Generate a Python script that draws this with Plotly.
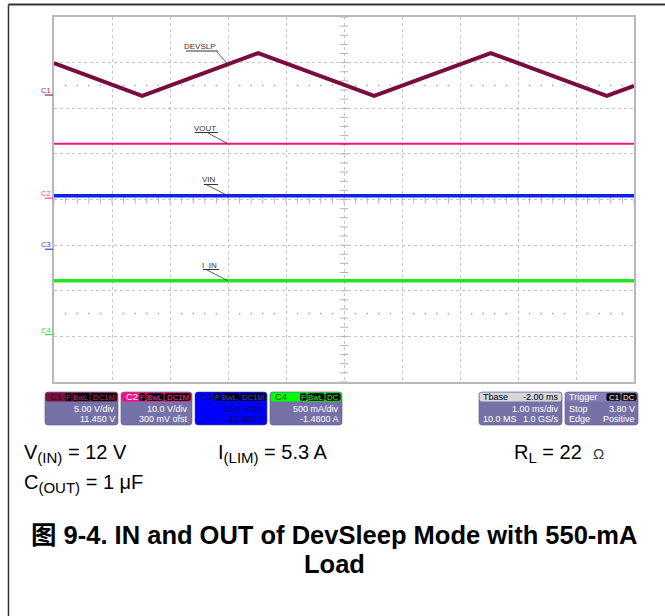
import plotly.graph_objects as go

W, H = 665, 616
PL, PR, PT, PB = 54, 634, 17, 382          # plot area in pixels
T0, T1, NDIV_Y = -3.0, 7.0, 8

# ---------------- data ----------------
span_t = [-3.0, 7.0]                         # ms
devslp_t = [-3.0, -1.48, 0.52, 2.52, 4.53, 6.53, 7.0]
devslp_v = [3.5, -0.1, 4.6, -0.1, 4.6, -0.1, 1.0]
vout_v = 11.9
vin_v = 11.7
iin_a = 0.59
channels = ["C1", "C2", "C3", "C4"]
volts_per_div = [5.0, 10.0, 10.0, 0.5]
offsets = [11.45, 0.30, -10.90, -1.48]
trace_names = ["DEVSLP", "VOUT", "VIN", "I_IN"]
trigger_t = 0.0
trigger_level = 3.80
ch_colors = ["#7a0b3c", "#f0147c", "#1020ee", "#22e622"]
mark_colors = ["#a0205a", "#ff3a8a", "#3a3aff", "#30e030"]

box_rows = {
    "C1": ("5.00 V/div", "11.450 V", ["F", "BwL", "DC1M"]),
    "C2": ("10.0 V/div", "300 mV ofst", ["F", "BwL", "DC1M"]),
    "C3": ("10.0 V/div", "-10.900 V", ["F", "BwL", "DC1M"]),
    "C4": ("500 mA/div", "-1.4800 A", ["F", "BwL", "DC"]),
}

ground = [4 + o / s for o, s in zip(offsets, volts_per_div)]   # in divisions

def to_div(ch, v):
    return ground[ch] + v / volts_per_div[ch]

# ---------------- helpers ----------------
def X(px):
    return px / W

def Y(py):
    return 1 - py / H

def tx(t):
    return PL + (t - T0) * (PR - PL) / (T1 - T0)

def dy(d):
    return PB - d * (PB - PT) / NDIV_Y

def rrect(x0, y0, x1, y1, r, fill, line=None, lw=0):
    p = (f"M {X(x0+r)},{Y(y0)} L {X(x1-r)},{Y(y0)} Q {X(x1)},{Y(y0)} {X(x1)},{Y(y0+r)} "
         f"L {X(x1)},{Y(y1-r)} Q {X(x1)},{Y(y1)} {X(x1-r)},{Y(y1)} "
         f"L {X(x0+r)},{Y(y1)} Q {X(x0)},{Y(y1)} {X(x0)},{Y(y1-r)} "
         f"L {X(x0)},{Y(y0+r)} Q {X(x0)},{Y(y0)} {X(x0+r)},{Y(y0)} Z")
    return dict(type="path", path=p, xref="paper", yref="paper", fillcolor=fill,
                line=dict(color=line or fill, width=lw), layer="above")

def pline(x0, y0, x1, y1, color, w=1):
    return dict(type="line", xref="paper", yref="paper", x0=X(x0), y0=Y(y0),
                x1=X(x1), y1=Y(y1), line=dict(color=color, width=w), layer="above")

FONT = "Arial, Liberation Sans"

def txt(px, py, s, size, color, xanchor="left", bold=False, family=FONT):
    if bold:
        s = f"<b>{s}</b>"
    return dict(x=X(px), y=Y(py), xref="paper", yref="paper", text=s, showarrow=False,
                xanchor=xanchor, yanchor="middle", font=dict(size=size, color=color, family=family))

fig = go.Figure()

# center-line ticks and dotted rows
sub_t = [T0 + 0.2 * i for i in range(51)]
sub_d = [0.2 * i for i in range(41)]
fig.add_trace(go.Scatter(x=sub_t, y=[4] * len(sub_t), mode="markers", hoverinfo="skip",
                         marker=dict(symbol="line-ns", size=6, line=dict(width=1, color="#b4b4b4"))))
fig.add_trace(go.Scatter(x=[2] * len(sub_d), y=sub_d, mode="markers", hoverinfo="skip",
                         marker=dict(symbol="line-ew", size=6, line=dict(width=1, color="#b4b4b4"))))
dot_t = [t for t in sub_t if abs(t - round(t)) > 0.05]
for yy in (6.5, 1.5):
    fig.add_trace(go.Scatter(x=dot_t, y=[yy] * len(dot_t), mode="markers", hoverinfo="skip",
                             marker=dict(symbol="square", size=1.6, color="#b0b0b0")))

# waveforms
fig.add_trace(go.Scatter(x=span_t, y=[to_div(3, iin_a)] * 2, mode="lines",
                         line=dict(color=ch_colors[3], width=3.5)))
fig.add_trace(go.Scatter(x=span_t, y=[to_div(2, vin_v)] * 2, mode="lines",
                         line=dict(color=ch_colors[2], width=3.5)))
fig.add_trace(go.Scatter(x=span_t, y=[to_div(1, vout_v)] * 2, mode="lines",
                         line=dict(color=ch_colors[1], width=2)))
fig.add_trace(go.Scatter(x=devslp_t, y=[to_div(0, v) for v in devslp_v], mode="lines",
                         line=dict(color=ch_colors[0], width=4)))

# trigger markers
fig.add_trace(go.Scatter(x=[trigger_t], y=[-0.08], mode="markers", cliponaxis=False,
                         marker=dict(symbol="triangle-up", size=8, color="#7a0b3c")))
fig.add_trace(go.Scatter(x=[T1 + 0.11], y=[to_div(0, trigger_level)], mode="markers",
                         cliponaxis=False,
                         marker=dict(symbol="triangle-left", size=7, color="#7a0b3c")))

shapes = []
annots = []

# outer frame
shapes.append(pline(8.5, 616, 8.5, 4.5, "#333333", 1.5))
shapes.append(pline(8.5, 4.5, 665, 4.5, "#333333", 2))

# trace labels with leaders
label_info = [  # channel, right x, text center y, underline left x, leader start (x,y)
    (0, 218, 46.5, 186, 217, 52),
    (1, 218, 128, 195, 208, 133),
    (2, 218, 180, 204, 207, 185),
    (3, 219, 265, 203, 207, 270),
]
trace_vals = [None, vout_v, vin_v, iin_a]
for ch, rx, cy, lx, sx, sy in label_info:
    if ch == 0:
        t_a, t_b = devslp_t[1], devslp_t[2]
        v_a, v_b = devslp_v[1], devslp_v[2]
        v = v_a + (trigger_t - t_a) * (v_b - v_a) / (t_b - t_a)
    else:
        v = trace_vals[ch]
    ey = dy(to_div(ch, v))
    annots.append(txt(rx, cy, trace_names[ch], 8, "#333333", xanchor="right"))
    shapes.append(pline(lx, cy + 4.5, rx, cy + 4.5, "#333333", 1))
    shapes.append(pline(sx, sy, tx(trigger_t), ey, "#333333", 0.8))

# channel ground markers
for i, ch in enumerate(channels):
    gy = dy(ground[i])
    annots.append(txt(53, gy - 4.5, ch, 7.5, mark_colors[i], xanchor="right"))
    shapes.append(pline(45, gy, 53, gy, mark_colors[i], 1.2))

# ---- scope info boxes ----
BODY = "#7672a8"
BY0, BY1, HY1 = 392, 425, 401.5
box_x = {"C1": (45, 118), "C2": (121, 192), "C3": (195, 267), "C4": (270, 342)}
head_fill = {"C1": "#7a1040", "C2": "#ff0a80", "C3": "#0000ff", "C4": "#00ff00"}
head_txt = {"C1": "#3a0018", "C2": "#ffffff", "C3": "#00005a", "C4": "#1b4d1b"}
tag_txt = {"C1": "#c03070", "C2": "#ff4a98", "C3": "#3a4aff", "C4": "#40ff40"}
body_txt = {"C1": "#ffffff", "C2": "#ffffff", "C3": "#00006a", "C4": "#ffffff"}
tag_w = {"F": 6.5, "BwL": 17, "DC1M": 26, "DC": 15, "C1": 14}
BFS = 9   # box text size

def tags(x_right, names, txtcolor):
    xr = x_right - 1.5
    for nm in reversed(names):
        w = tag_w[nm]
        shapes.append(rrect(xr - w, 393.3, xr, 400.7, 1.5, "#000000"))
        annots.append(txt(xr - w / 2, 397.2, nm, 7.8, txtcolor, xanchor="center"))
        xr -= w + 1.0

for ch, (x0, x1) in box_x.items():
    body = "#0000ff" if ch == "C3" else BODY
    shapes.append(rrect(x0, BY0, x1, BY1, 3, body, "#55558a", 0.6))
    shapes.append(rrect(x0 + 0.6, BY0 + 0.6, x1 - 0.6, HY1, 2, head_fill[ch]))
    annots.append(txt(x0 + 2.5, 397, ch, 9.5, head_txt[ch]))
    r1, r2, tg = box_rows[ch]
    tags(x1, tg, tag_txt[ch])
    annots.append(txt(x1 - 1.5, 408.5, r1, BFS, body_txt[ch], xanchor="right"))
    annots.append(txt(x1 - 1.5, 418.8, r2, BFS, body_txt[ch], xanchor="right"))

# timebase box
x0, x1 = 479, 562
shapes.append(rrect(x0, BY0, x1, BY1, 3, BODY, "#55558a", 0.6))
shapes.append(rrect(x0 + 0.6, BY0 + 0.6, x1 - 0.6, HY1, 2, "#d6d6de"))
annots.append(txt(x0 + 2, 397, "Tbase", BFS, "#000000"))
annots.append(txt(x1 - 1.5, 397, "-2.00 ms", BFS, "#000000", xanchor="right"))
annots.append(txt(x1 - 1.5, 408.5, "1.00 ms/div", BFS, "#ffffff", xanchor="right"))
annots.append(txt(x0 + 2, 418.8, "10.0 MS", BFS, "#ffffff"))
annots.append(txt(x1 - 1.5, 418.8, "1.0 GS/s", BFS, "#ffffff", xanchor="right"))

# trigger box
x0, x1 = 565, 638
shapes.append(rrect(x0, BY0, x1, BY1, 3, BODY, "#55558a", 0.6))
shapes.append(rrect(x0 + 0.6, BY0 + 0.6, x1 - 0.6, HY1, 2, "#8480b4"))
annots.append(txt(x0 + 2, 397, "Trigger", BFS, "#ffffff"))
tags(x1, ["C1", "DC"], "#ffffff")
annots.append(txt(x0 + 2, 408.5, "Stop", BFS, "#ffffff"))
annots.append(txt(x1 - 1.5, 408.5, f"{trigger_level:.2f} V", BFS, "#ffffff", xanchor="right"))
annots.append(txt(x0 + 2, 418.8, "Edge", BFS, "#ffffff"))
annots.append(txt(x1 - 1.5, 418.8, "Positive", BFS, "#ffffff", xanchor="right"))

# ---- test conditions & caption ----
SUB = "<sub><span style='font-size:15px'>%s</span></sub>"
annots.append(txt(22, 453, "V" + SUB % "(IN)" + " = 12 V", 20, "#000000"))
annots.append(txt(216, 453, "I" + SUB % "(LIM)" + " = 5.3 A", 20, "#000000"))
annots.append(txt(512, 453, "R" + SUB % "L" + " = 22  <span style='font-size:15px;color:#333'>Ω</span>",
                  20, "#000000"))
annots.append(txt(22, 483, "C" + SUB % "(OUT)" + " = 1 μF", 20, "#000000"))
cap_font = "Arial, Liberation Sans, Noto Sans CJK SC"
annots.append(txt(334, 535, "图 9-4. IN and OUT of DevSleep Mode with 550-mA", 25.5, "#000000",
                  xanchor="center", bold=True, family=cap_font))
annots.append(txt(334, 564, "Load", 25.5, "#000000", xanchor="center", bold=True, family=cap_font))

fig.update_layout(
    width=W, height=H, margin=dict(l=0, r=0, t=0, b=0),
    paper_bgcolor="#ffffff", plot_bgcolor="#ffffff", showlegend=False,
    shapes=shapes, annotations=annots,
    xaxis=dict(domain=[X(PL), X(PR)], range=[T0, T1], dtick=1, showgrid=True,
               gridcolor="#c4c4c4", griddash="dot", gridwidth=1, zeroline=False,
               showticklabels=False, showline=True, linecolor="#b8b8b8", linewidth=1.5,
               mirror=True, ticks="", fixedrange=True),
    yaxis=dict(domain=[Y(PB), Y(PT)], range=[0, NDIV_Y], dtick=1, showgrid=True,
               gridcolor="#c4c4c4", griddash="dot", gridwidth=1, zeroline=False,
               showticklabels=False, showline=True, linecolor="#b8b8b8", linewidth=1.5,
               mirror=True, ticks="", fixedrange=True),
)

fig.write_html("out.html", config={"displayModeBar": False},
               post_script="document.body.style.margin='0';document.body.style.padding='0';")
